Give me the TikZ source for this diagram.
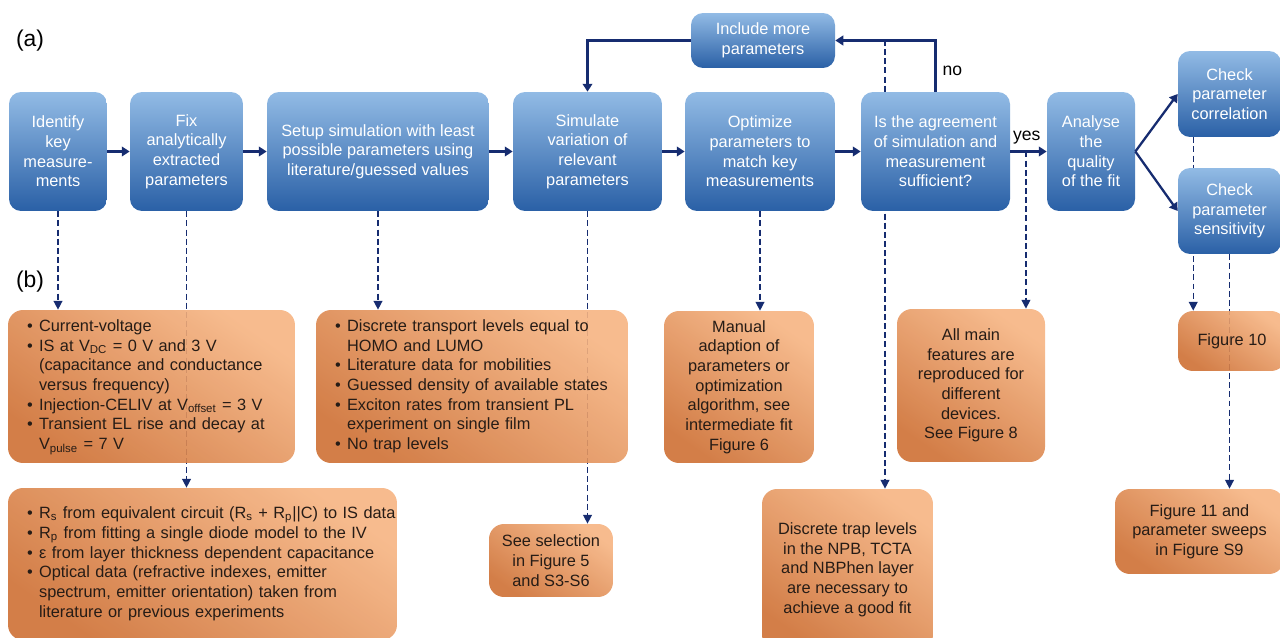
\documentclass[tikz,border=0pt]{standalone}
\usepackage{fontspec}
\setmainfont{Liberation Sans}
\usepackage{tikz}
\usetikzlibrary{arrows.meta,calc}
\pgfdeclarelayer{background}
\pgfsetlayers{background,main}

\definecolor{navy}{RGB}{22,44,112}
\definecolor{blueT}{RGB}{146,187,229}
\definecolor{blueB}{RGB}{42,96,166}
\definecolor{orangeL}{RGB}{246,180,130}
\definecolor{orangeD}{RGB}{206,112,52}
\definecolor{notetext}{RGB}{38,28,22}

\tikzset{
  bluebox/.style={rounded corners=0.24cm, top color=blueT, bottom color=blueB,
    text=white, align=center, minimum height=2.38cm},
  notebox/.style={rounded corners=0.3cm, top color=orangeL, bottom color=orangeD,
    shading angle=-35, fill opacity=0.9, text opacity=1, text=notetext, align=center},
  listbox/.style={notebox, align=left, inner xsep=0.38cm},
  flowarr/.style={draw=navy, line width=1.3pt, -{Triangle[width=5.5pt,length=4.5pt]}},
  dasharr/.style={draw=navy, line width=0.8pt, dash pattern=on 3.4pt off 1.8pt,
    -{Triangle[width=5pt,length=5pt]}}
}

\begin{document}
\begin{tikzpicture}[x=0.02cm, y=-0.02cm, font=\fontsize{9.3}{11.2}\selectfont]
\useasboundingbox (0,0) rectangle (1280,638);

\node[font=\fontsize{13}{15}\selectfont] (lbla) at (30,41) {(a)};
\node[font=\fontsize{13}{15}\selectfont] (lblb) at (30,282) {(b)};

% (a) workflow
\node[bluebox, minimum width=1.96cm] (ident) at (58,151.5) {Identify\\key\\measure-\\ments};
\node[bluebox, minimum width=2.26cm] (fix) at (186.5,151.5) {Fix\\analytically\\extracted\\parameters};
\node[bluebox, minimum width=4.44cm] (setup) at (378,151.5) {Setup simulation with least\\possible parameters using\\literature/guessed values};
\node[bluebox, minimum width=2.98cm] (simul) at (587.5,151.5) {Simulate\\variation of\\relevant\\parameters};
\node[bluebox, minimum width=3.0cm] (optim) at (760,151.5) {Optimize\\parameters to\\match key\\measurements};
\node[bluebox, minimum width=2.98cm] (agree) at (935.5,151.5) {Is the agreement\\of simulation and\\measurement\\sufficient?};
\node[bluebox, minimum width=1.76cm] (analyse) at (1091,151.5) {Analyse\\the\\quality\\of the fit};
\node[bluebox, minimum width=2.06cm, minimum height=1.72cm] (corr) at (1229.5,94) {Check\\parameter\\correlation};
\node[bluebox, minimum width=2.06cm, minimum height=1.72cm] (sens) at (1229.5,211) {Check\\parameter\\sensitivity};
\node[bluebox, minimum width=2.88cm, minimum height=1.1cm] (incl) at (763,40.5) {Include more\\parameters};

% (b) notes
\node[listbox, minimum height=3.06cm, text width=4.98cm] (meas) at (151.5,386.5) {%
\begin{tabular}{@{}l@{\hspace{3.6pt}}l@{}}
\textbullet & Current-voltage\\
\textbullet & IS at V\textsubscript{DC} = 0 V and 3 V\\
 & (capacitance and conductance\\
 & versus frequency)\\
\textbullet & Injection-CELIV at V\textsubscript{offset} = 3 V\\
\textbullet & Transient EL rise and decay at\\
 & V\textsubscript{pulse} = 7 V
\end{tabular}};
\node[listbox, minimum height=3.04cm, text width=7.02cm] (extr) at (202.5,564) {%
\begin{tabular}{@{}l@{\hspace{3.6pt}}l@{}}
\textbullet & R\textsubscript{s} from equivalent circuit (R\textsubscript{s} + R\textsubscript{p}||C) to IS data\\
\textbullet & R\textsubscript{p} from fitting a single diode model to the IV\\
\textbullet & ε from layer thickness dependent capacitance\\
\textbullet & Optical data (refractive indexes, emitter\\
 & spectrum, emitter orientation) taken from\\
 & literature or previous experiments
\end{tabular}};
\node[listbox, minimum height=3.06cm, text width=5.48cm] (lit) at (472,386.5) {%
\begin{tabular}{@{}l@{\hspace{3.6pt}}l@{}}
\textbullet & Discrete transport levels equal to\\
 & HOMO and LUMO\\
\textbullet & Literature data for mobilities\\
\textbullet & Guessed density of available states\\
\textbullet & Exciton rates from transient PL\\
 & experiment on single film\\
\textbullet & No trap levels
\end{tabular}};
\node[notebox, minimum width=2.48cm, minimum height=1.46cm] (sel) at (551,560.5) {See selection\\in Figure 5\\and S3-S6};
\node[notebox, minimum width=3.0cm, minimum height=3.04cm] (man) at (739,387) {Manual\\adaption of\\parameters or\\optimization\\algorithm, see\\intermediate fit\\Figure 6};
\node[notebox, minimum width=3.42cm, minimum height=3.22cm] (trap) at (847.5,569.5) {Discrete trap levels\\in the NPB, TCTA\\and NBPhen layer\\are necessary to\\achieve a good fit};
\node[notebox, minimum width=2.96cm, minimum height=3.06cm] (feat) at (971,385.5) {All main\\features are\\reproduced for\\different\\devices.\\See Figure 8};
\node[notebox, minimum width=2.16cm, minimum height=1.2cm] (fig10) at (1232,341) {Figure 10};
\node[notebox, minimum width=3.38cm, minimum height=1.7cm] (fig11) at (1199.5,531.5) {Figure 11 and\\parameter sweeps\\in Figure S9};

% main flow
\draw[flowarr] (ident) -- (fix);
\draw[flowarr] (fix) -- (setup);
\draw[flowarr] (setup) -- (simul);
\draw[flowarr] (simul) -- (optim);
\draw[flowarr] (optim) -- (agree);
\draw[flowarr] (agree) -- node[above, pos=0.45, font=\fontsize{10}{12}\selectfont] (yes) {yes} (analyse);
\draw[flowarr] (analyse.east) -- (corr.west);
\draw[flowarr] (analyse.east) -- (sens.west);
\draw[flowarr] (agree.north) |- node[pos=0.2, right, font=\fontsize{10}{12}\selectfont] (no) {no} (incl.east);
\draw[flowarr] (incl.west) -| (simul.north);

% links to (b)
\coordinate (nox) at (885,40);
\coordinate (yesx) at ($(agree.east)!0.43!(analyse.west)$);
\coordinate (corrx) at ($(corr.south west)!0.15!(corr.south east)$);
\begin{pgfonlayer}{background}
\draw[dasharr] (ident.south) -- (ident.south |- meas.north);
\draw[dasharr] (fix.south) -- (fix.south |- extr.north);
\draw[dasharr] (setup.south) -- (setup.south |- lit.north);
\draw[dasharr] (simul.south) -- (simul.south |- sel.north);
\draw[dasharr] (optim.south) -- (optim.south |- man.north);
\draw[dasharr] (nox) -- (nox |- trap.north);
\draw[dasharr] (yesx) -- (yesx |- feat.north);
\draw[dasharr] (corrx) -- (corrx |- fig10.north);
\draw[dasharr] (sens.south) -- (sens.south |- fig11.north);
\end{pgfonlayer}
\end{tikzpicture}
\end{document}
